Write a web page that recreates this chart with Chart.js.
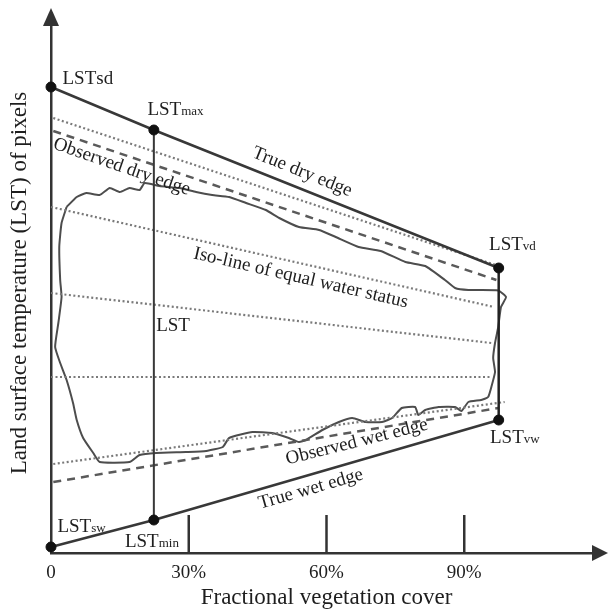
<!DOCTYPE html>
<html>
<head>
<meta charset="utf-8">
<script src="https://cdn.jsdelivr.net/npm/chart.js@4/dist/chart.umd.min.js"></script>
<style>
html, body { margin: 0; padding: 0; background: #fff; }
#wrap { width: 608px; height: 611px; }
</style>
</head>
<body>
<div id="wrap"><canvas id="c" width="608" height="611"></canvas></div>
<script>
// ---------------- DATA (x = fractional vegetation cover, %, y = LST in arbitrary units) ----------------
const fvcTicks = [0, 30, 60, 90];
const fvcTickLabels = ['0', '30%', '60%', '90%'];
const tickMarkFvc = [30, 60, 90];

const keyPointNames = ['LSTsd', 'LSTmax', 'LSTvd', 'LSTvw', 'LSTmin', 'LSTsw'];
const keyPointFvc = [0, 22.4, 97.5, 97.5, 22.4, 0];
const keyPointLst = [466, 423, 285, 133, 33, 6];

const trueDryEdgeFvc = [0, 22.4, 97.5];
const trueDryEdgeLst = [466, 423, 285];
const trueWetEdgeFvc = [0, 22.4, 97.5];
const trueWetEdgeLst = [6, 33, 133];

const observedDryEdgeFvc = [0.5, 97];
const observedDryEdgeLst = [422, 273];
const observedWetEdgeFvc = [0.5, 97.5];
const observedWetEdgeLst = [71, 145];

const isoLineStartFvc = [0.5, 0, 0, 0, 0.5];
const isoLineStartLst = [435, 346, 260, 176, 89];
const isoLineEndFvc = [97.5, 96.5, 95.9, 95.9, 98.8];
const isoLineEndLst = [287, 246, 210, 176, 151];

const envelopeFvc = [3.4,5.6,7.7,10.6,12.8,15.0,17.1,19.3,20.4,23.6,28.0,31.6,35.1,38.8,42.5,46.8,49.7,54.0,58.4,62.0,67.0,71.8,77.2,81.5,85.8,88.0,90.9,97.4,99.1,98.0,97.4,96.7,96.3,96.7,95.9,95.2,93.7,90.9,89.4,88.0,84.4,81.5,80.0,79.3,76.4,74.3,72.1,68.5,65.6,62.7,59.1,55.5,54.0,51.8,48.2,43.9,38.8,37.4,33.8,29.4,22.9,19.3,17.1,10.6,9.2,7.0,5.6,4.8,3.4,2.0,0.9,1.6,2.3,2.0,1.8,2.3,3.4];
const envelopeLst = [346,356,360,358,365,361,365,363,370,367,365,361,358,356,350,343,335,326,323,316,306,302,291,287,273,265,263,262.5,256,246,226,210,195,181,166,156,153,151,142,146,146,143,138,146,145,135,131,131,135,131,123,113,111,115,120,121,115,106,102,101,100,98,91,91,100,115,133,150,173,190,206,230,256,273,306,330,346];

// ---------------- STYLE / LAYOUT ----------------
const SERIF = '"Liberation Serif", "Times New Roman", Times, serif';
const INK = '#1e1e1e';
const AXIS = '#333333';
const LINE = '#383838';
const CURVE = '#4d4d4d';
const DASH = '#5a5a5a';
const DOT = '#7a7a7a';
const TICK_MARK_HEIGHT = 38;

// label anchors (layout, in data coordinates)
const pointLabels = [
  { main: 'LST', sub: 'sd',  subSize: 19, fvc: 2.5,  lst: 476 },
  { main: 'LST', sub: 'max', subSize: 13, fvc: 21.0, lst: 445 },
  { main: 'LST', sub: 'vd',  subSize: 13, fvc: 95.4, lst: 310 },
  { main: 'LST', sub: 'vw',  subSize: 13, fvc: 95.6, lst: 117 },
  { main: 'LST', sub: 'sw',  subSize: 13, fvc: 1.4,  lst: 28 },
  { main: 'LST', sub: 'min', subSize: 13, fvc: 16.1, lst: 13 },
  { main: 'LST', sub: '',    subSize: 13, fvc: 22.9, lst: 229 }
];
const edgeLabels = [
  { text: 'True dry edge', fvc: 54.7, lst: 381, angle: 22 },
  { text: 'Observed dry edge', fvc: 15.4, lst: 386, angle: 19 },
  { text: 'Iso-line of equal water status', fvc: 54.4, lst: 275, angle: 13 },
  { text: 'Observed wet edge', fvc: 66.6, lst: 111, angle: -14 },
  { text: 'True wet edge', fvc: 56.6, lst: 64, angle: -16 }
];

const pts = (xs, ys) => xs.map((v, i) => ({ x: v, y: ys[i] }));
function lineDs(label, data, opts) {
  return Object.assign({
    label, data, showLine: true, pointRadius: 0, pointHoverRadius: 0, fill: false,
    clip: false, borderColor: LINE, borderWidth: 2.5, tension: 0
  }, opts || {});
}

const datasets = [];
datasets.push({
  label: 'Key points', data: pts(keyPointFvc, keyPointLst), showLine: false,
  pointRadius: 5, pointBackgroundColor: '#111', pointBorderColor: '#111', clip: false
});
datasets.push(lineDs('True dry edge', pts(trueDryEdgeFvc, trueDryEdgeLst)));
datasets.push(lineDs('True wet edge', pts(trueWetEdgeFvc, trueWetEdgeLst)));
datasets.push(lineDs('LST at max/min', pts([keyPointFvc[4], keyPointFvc[1]], [keyPointLst[4], keyPointLst[1]]), { borderWidth: 2 }));
datasets.push(lineDs('Full cover', pts([keyPointFvc[3], keyPointFvc[2]], [keyPointLst[3], keyPointLst[2]]), { borderWidth: 2.5, borderColor: '#222' }));
datasets.push(lineDs('Observed dry edge', pts(observedDryEdgeFvc, observedDryEdgeLst), { borderColor: DASH, borderDash: [8, 6] }));
datasets.push(lineDs('Observed wet edge', pts(observedWetEdgeFvc, observedWetEdgeLst), { borderColor: DASH, borderDash: [8, 6] }));
isoLineStartLst.forEach((v, i) => {
  datasets.push(lineDs('Iso-line ' + (i + 1),
    pts([isoLineStartFvc[i], isoLineEndFvc[i]], [v, isoLineEndLst[i]]),
    { borderColor: DOT, borderWidth: 2.2, borderDash: [2, 2.5] }));
});
datasets.push(lineDs('Observed pixels', pts(envelopeFvc, envelopeLst), { borderColor: CURVE, borderWidth: 2, tension: 0.15 }));
tickMarkFvc.forEach(v => {
  datasets.push(lineDs('tick ' + v, [{ x: v, y: 0 }, { x: v, y: TICK_MARK_HEIGHT }], { borderColor: AXIS, borderWidth: 2.5 }));
});

const labelPlugin = {
  id: 'schemeLabels',
  afterDatasetsDraw(chart) {
    const { ctx, scales: { x, y } } = chart;
    ctx.save();
    ctx.fillStyle = INK;
    pointLabels.forEach(l => {
      const px = x.getPixelForValue(l.fvc), py = y.getPixelForValue(l.lst);
      ctx.textAlign = 'left';
      ctx.textBaseline = 'alphabetic';
      ctx.font = '19px ' + SERIF;
      const base = py + 6.5;
      ctx.fillText(l.main, px, base);
      const w = ctx.measureText(l.main).width;
      if (l.sub) {
        ctx.font = l.subSize + 'px ' + SERIF;
        ctx.fillText(l.sub, px + w, base);
      }
    });
    edgeLabels.forEach(l => {
      ctx.save();
      ctx.translate(x.getPixelForValue(l.fvc), y.getPixelForValue(l.lst));
      ctx.rotate(l.angle * Math.PI / 180);
      ctx.font = '19px ' + SERIF;
      ctx.textAlign = 'center';
      ctx.textBaseline = 'middle';
      ctx.fillText(l.text, 0, 0);
      ctx.restore();
    });
    ctx.restore();
  }
};

const arrowPlugin = {
  id: 'axisArrows',
  afterDraw(chart) {
    const { ctx, chartArea: a } = chart;
    ctx.save();
    ctx.fillStyle = AXIS;
    ctx.beginPath();
    ctx.moveTo(a.left, a.top - 5);
    ctx.lineTo(a.left - 8, a.top + 13);
    ctx.lineTo(a.left + 8, a.top + 13);
    ctx.closePath();
    ctx.fill();
    ctx.beginPath();
    ctx.moveTo(chart.width, a.bottom);
    ctx.lineTo(chart.width - 16, a.bottom - 8);
    ctx.lineTo(chart.width - 16, a.bottom + 8);
    ctx.closePath();
    ctx.fill();
    ctx.restore();
  }
};

new Chart(document.getElementById('c'), {
  type: 'scatter',
  data: { datasets },
  options: {
    responsive: false,
    devicePixelRatio: 1,
    animation: false,
    layout: { padding: { left: 4, right: 4, top: 13, bottom: 0 } },
    plugins: { legend: { display: false }, tooltip: { enabled: false } },
    events: [],
    scales: {
      x: {
        type: 'linear', min: 0, max: 120,
        grid: { display: false, drawTicks: false, tickLength: 0 },
        border: { display: true, color: AXIS, width: 2.5 },
        afterBuildTicks: s => { s.ticks = fvcTicks.map(v => ({ value: v })); },
        ticks: {
          padding: 11, color: INK, font: { family: SERIF, size: 19, lineHeight: 1 },
          maxRotation: 0, autoSkip: false,
          callback: (v) => fvcTickLabels[fvcTicks.indexOf(v)]
        },
        title: {
          display: true, text: 'Fractional vegetation cover', color: INK,
          font: { family: SERIF, size: 23, lineHeight: 1 }, padding: { top: -7.5, bottom: 1.5 }
        }
      },
      y: {
        type: 'linear', min: 0, max: 540,
        grid: { display: false, drawTicks: false, tickLength: 0 },
        border: { display: true, color: AXIS, width: 2.5 },
        ticks: { display: false },
        title: {
          display: true, text: 'Land surface temperature (LST) of pixels', color: INK,
          font: { family: SERIF, size: 23 }, padding: { top: 2.4, bottom: 17 }
        }
      }
    }
  },
  plugins: [labelPlugin, arrowPlugin]
});
</script>
</body>
</html>
